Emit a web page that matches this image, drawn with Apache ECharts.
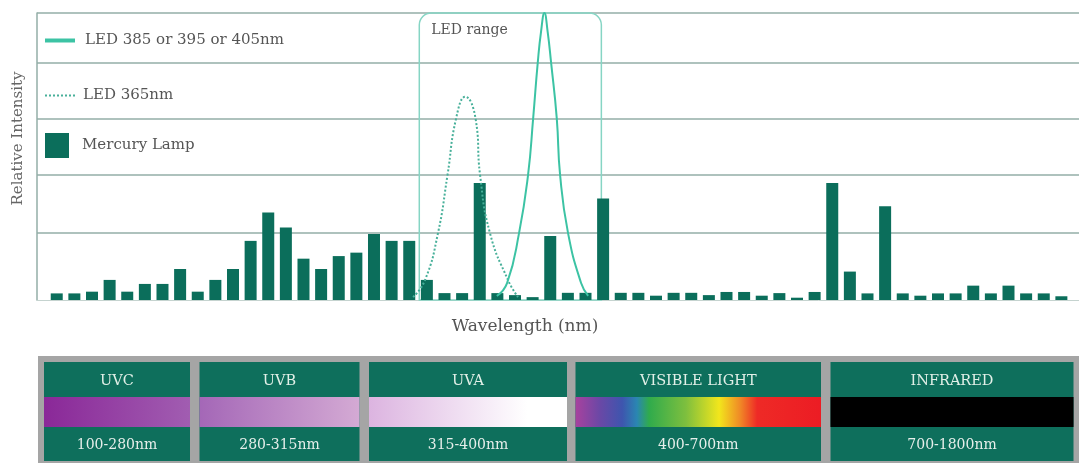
<!DOCTYPE html>
<html><head><meta charset="utf-8">
<script src="https://cdn.jsdelivr.net/npm/echarts@6/dist/echarts.min.js"></script>
<style>html,body{margin:0;padding:0;background:#fff}#c{width:1079px;height:463px}</style>
</head><body><div id="c"></div>
<script>
// ---- DATA ----
// Mercury lamp emission bars (relative intensity, 0-100), one per wavelength slot
const mercuryLamp = [2.3,2.3,2.9,7.0,2.9,5.6,5.6,10.8,2.9,7.0,10.8,20.6,30.5,25.3,14.4,10.8,15.3,16.5,23.0,20.6,
  20.6,7.0,2.4,2.4,40.8,2.4,1.7,1.0,22.3,2.5,2.5,35.4,2.5,2.5,1.5,2.5,2.5,1.7,2.8,2.8,
  1.5,2.4,0.8,2.8,40.8,9.9,2.3,32.7,2.3,1.5,2.3,2.3,5.0,2.3,5.0,2.3,2.3,1.3];
const slots = mercuryLamp.map((_, i) => i);
// LED 385/395/405nm curve (x in slot units)
const led385X = [24.97,25.55,26.23,26.74,27.03,27.29,27.48,27.67,27.85,28.05,28.37,28.56,29.01,29.75,30.15];
const led385Y = [1.4,5.9,23.3,43.5,63.3,82.6,93.6,100,93.6,82.6,63.3,43.5,23.3,5.9,1.4];
// LED 365nm curve
const led365X = [20.22,20.90,21.63,22.17,22.66,23.18,23.76,24.02,24.58,25.60,26.17];
const led365Y = [1.0,7.0,23.3,43.5,63.3,70.8,63.3,43.5,23.3,7.0,1.0];
// LED range (slot units)
const ledRange = [20.57, 30.9];
// Horizontal gridline values
const gridValues = [23.6, 43.5, 63.2, 82.6, 100];
// Spectrum bands
const bandNames = ['UVC', 'UVB', 'UVA', 'VISIBLE LIGHT', 'INFRARED'];
const bandRanges = ['100-280nm', '280-315nm', '315-400nm', '400-700nm', '700-1800nm'];

// ---- LAYOUT / STYLE ----
const FONT = '"DejaVu Serif", serif';
const gridColor = '#93aea7';
const barColor = '#0b6e5b';
const ledColor = '#3cc3a4';
const led365Color = '#48b09a';
const boxColor = '#86d5c4';
const bandTeal = '#0e6f5c';
const bandBoxX = [[44,190],[199.5,359.5],[369,567],[575.5,821],[830.5,1073.5]];
const bandGradients = [
  [{offset:0,color:'#8a2898'},{offset:1,color:'#a15db1'}],
  [{offset:0,color:'#a467b7'},{offset:1,color:'#d4aad4'}],
  [{offset:0,color:'#dcb4e0'},{offset:0.8,color:'#ffffff'},{offset:1,color:'#ffffff'}],
  [{offset:0,color:'#a8429e'},{offset:0.1,color:'#6a48a6'},{offset:0.19,color:'#3e55ae'},{offset:0.25,color:'#2a86b2'},
   {offset:0.3,color:'#30ab4c'},{offset:0.45,color:'#7ebf3e'},{offset:0.585,color:'#f2e61c'},{offset:0.67,color:'#f08a26'},
   {offset:0.74,color:'#ee2a26'},{offset:1,color:'#ec1c24'}],
  [{offset:0,color:'#000000'},{offset:1,color:'#000000'}]
];

const chart = echarts.init(document.getElementById('c'));
const dottedIcon = 'path://' + Array.from({length:8},(_,k)=>`M${k*4} 0h2v2h-2z`).join(' ');
const legendText = { fontFamily: FONT, fontSize: 15, color: '#555' };

const option = {
  backgroundColor: '#ffffff',
  animation: false,
  grid: { left: 37, right: 0, top: 13, bottom: 163 },
  xAxis: {
    type: 'value', min: -1.12, max: 58,
    axisLine: { show: true, lineStyle: { color: '#c5d3cf', width: 1 } },
    axisTick: { show: false }, axisLabel: { show: false }, splitLine: { show: false },
    name: 'Wavelength (nm)', nameLocation: 'middle', nameGap: 18,
    nameTextStyle: { fontFamily: FONT, fontSize: 17, color: '#555', padding: [0, 66, 0, 0] }
  },
  yAxis: {
    type: 'value', min: 0, max: 100,
    axisLine: { show: true, onZero: false, lineStyle: { color: gridColor, width: 1.5 } },
    axisTick: { show: false, customValues: gridValues },
    axisLabel: { show: false, customValues: gridValues },
    splitLine: { show: true, lineStyle: { color: gridColor, width: 1.5 } },
    name: 'Relative Intensity', nameLocation: 'middle', nameGap: 11,
    nameTextStyle: { fontFamily: FONT, fontSize: 15, color: '#666', padding: [0, 0, 0, 36] }
  },
  legend: [
    { data: [{ name: 'LED 385 or 395 or 405nm', icon: 'rect' }], left: 45, top: 33, padding: 0, itemWidth: 30, itemHeight: 4,
      textStyle: Object.assign({ padding: [0,0,0,5] }, legendText) },
    { data: [{ name: 'LED 365nm', icon: dottedIcon }], left: 45, top: 88, padding: 0, itemWidth: 30, itemHeight: 2,
      textStyle: Object.assign({ padding: [0,0,0,3] }, legendText) },
    { data: [{ name: 'Mercury Lamp', icon: 'rect' }], left: 45, top: 133, padding: 0, itemWidth: 24, itemHeight: 25,
      textStyle: Object.assign({ padding: [0,0,0,8] }, legendText) }
  ],
  series: [
    { name: 'Mercury Lamp', type: 'bar', barWidth: 12, z: 2,
      itemStyle: { color: barColor },
      data: slots.map((s, i) => [s, mercuryLamp[i]]) },
    { name: 'LED 365nm', type: 'line', smooth: 0.5, symbol: 'none', z: 3,
      itemStyle: { color: led365Color },
      lineStyle: { color: led365Color, width: 2, type: 'dotted' },
      data: led365X.map((x, i) => [x, led365Y[i]]) },
    { name: 'LED 385 or 395 or 405nm', type: 'line', smooth: 0.5, symbol: 'none', z: 3,
      itemStyle: { color: ledColor },
      lineStyle: { color: ledColor, width: 2 },
      data: led385X.map((x, i) => [x, led385Y[i]]) }
  ]
};
chart.setOption(option);

// LED range box + spectrum band panel
const p0 = chart.convertToPixel({ xAxisIndex: 0, yAxisIndex: 0 }, [ledRange[0], 100]);
const p1 = chart.convertToPixel({ xAxisIndex: 0, yAxisIndex: 0 }, [ledRange[1], 0]);
const graphics = [
  { type: 'rect', z: 1, silent: true,
    shape: { x: p0[0], y: p0[1], width: p1[0] - p0[0], height: p1[1] - p0[1], r: [12, 12, 0, 0] },
    style: { fill: 'none', stroke: boxColor, lineWidth: 1.5 } },
  { type: 'text', z: 4, x: p0[0] + 12, y: p0[1] + 17,
    style: { text: 'LED range', fontFamily: FONT, fontSize: 14, fill: '#555', verticalAlign: 'middle' } },
  { type: 'rect', z: 1, shape: { x: 38, y: 356, width: 1041, height: 107 }, style: { fill: '#a5a5a5' } }
];
bandNames.forEach((name, i) => {
  const [x0, x1] = bandBoxX[i];
  const w = x1 - x0;
  graphics.push({ type: 'rect', z: 2, shape: { x: x0, y: 362, width: w, height: 99 }, style: { fill: bandTeal } });
  graphics.push({ type: 'rect', z: 3, shape: { x: x0, y: 397, width: w, height: 30 },
    style: { fill: { type: 'linear', x: 0, y: 0, x2: 1, y2: 0, colorStops: bandGradients[i] } } });
  graphics.push({ type: 'text', z: 4, x: x0 + w / 2, y: 381,
    style: { text: name, fontFamily: FONT, fontSize: 14.5, fill: '#e2f0e8', align: 'center', verticalAlign: 'middle' } });
  graphics.push({ type: 'text', z: 4, x: x0 + w / 2, y: 445,
    style: { text: bandRanges[i], fontFamily: FONT, fontSize: 14, fill: '#e6eeea', align: 'center', verticalAlign: 'middle' } });
});
chart.setOption({ graphic: graphics });
</script>
</body></html>
